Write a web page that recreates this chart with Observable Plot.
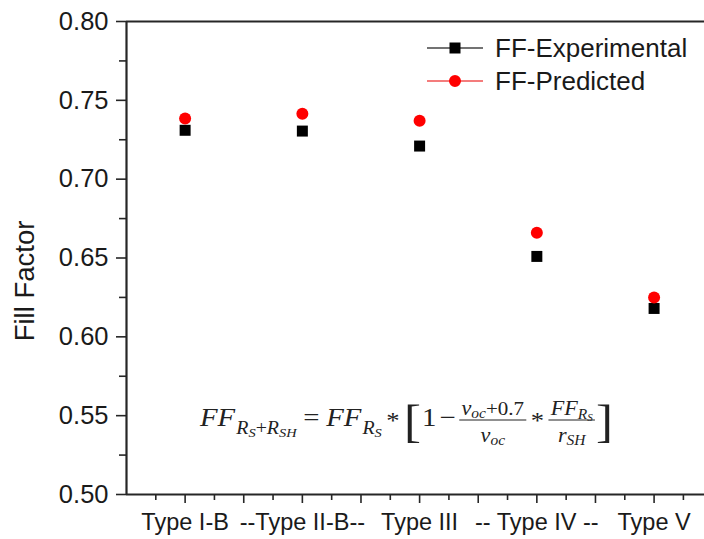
<!DOCTYPE html>
<html><head><meta charset="utf-8">
<script src="https://cdn.jsdelivr.net/npm/d3@7"></script>
<script src="https://cdn.jsdelivr.net/npm/@observablehq/plot@0.6"></script>
<style>
html,body{margin:0;padding:0;background:#fff;}
#chart{width:704px;height:539px;overflow:hidden;}
</style></head><body><div id="chart"></div>
<script>
// ---- data ----
const categories = ["Type I-B", "Type II-B", "Type III", "Type IV", "Type V"];
const tickLabels = ["Type I-B", "--Type II-B--", "Type III", "-- Type IV --", "Type V"];
const ffExperimental = [0.731, 0.7305, 0.721, 0.651, 0.618];
const ffPredicted = [0.7385, 0.7415, 0.737, 0.666, 0.625];
const seriesNames = ["FF-Experimental", "FF-Predicted"];
const yMajorTicks = [0.50, 0.55, 0.60, 0.65, 0.70, 0.75, 0.80];
const yMinorTicks = [0.525, 0.575, 0.625, 0.675, 0.725, 0.775];
const xMajorTicks = [1, 1.5, 2, 2.5, 3, 3.5, 4, 4.5, 5];
const xMinorTicks = [0.75, 1.25, 1.75, 2.25, 2.75, 3.25, 3.75, 4.25, 4.75, 5.25];
const yLabel = "Fill Factor";

const expRows = categories.map((c, i) => ({pos: i + 1, value: ffExperimental[i], series: seriesNames[0]}));
const predRows = categories.map((c, i) => ({pos: i + 1, value: ffPredicted[i], series: seriesNames[1]}));

const sans = "'Liberation Sans', Arial, sans-serif";
const serif = "'Liberation Serif', 'Times New Roman', serif";
const axisColor = "#262626";

const svg = Plot.plot({
  width: 704, height: 539,
  marginLeft: 126, marginRight: 0, marginTop: 21, marginBottom: 45,
  style: {fontFamily: sans, background: "#fff", color: axisColor},
  x: {type: "linear", domain: [0.5, 5.43]},
  y: {domain: [0.5, 0.8]},
  marks: [
    Plot.axisY(yMajorTicks, {tickSize: 10, tickPadding: 8, tickFormat: d3.format(".2f"), fontSize: 25.5, label: null, strokeWidth: 1.6, fill: "#1a1a1a"}),
    Plot.axisY(yMinorTicks, {tickSize: 7, tickFormat: () => "", label: null, strokeWidth: 1.6}),
    Plot.axisX(xMajorTicks, {tickSize: 9, tickPadding: 10, tickFormat: d => Number.isInteger(d) ? tickLabels[d - 1] : "", fontSize: 23.5, label: null, strokeWidth: 1.6, fill: "#1a1a1a"}),
    Plot.axisX(xMinorTicks, {tickSize: 6, tickFormat: () => "", label: null, strokeWidth: 1.6}),
    Plot.ruleY([0.8], {stroke: axisColor, strokeWidth: 2.2}),
    Plot.ruleY([0.5], {stroke: axisColor, strokeWidth: 2.2}),
    Plot.ruleX([0.5], {stroke: axisColor, strokeWidth: 2.2}),
    Plot.dot(expRows, {x: "pos", y: "value", symbol: "square", r: 6.2, fill: "#000", stroke: "none"}),
    Plot.dot(predRows, {x: "pos", y: "value", symbol: "circle", r: 6, fill: "#ff0000", stroke: "none"})
  ]
});
document.getElementById("chart").appendChild(svg);

const S = d3.select(svg);

// y axis title
S.append("text")
  .attr("transform", "translate(34,281) rotate(-90)")
  .attr("text-anchor", "middle")
  .attr("font-family", sans).attr("font-size", 27.5).attr("fill", "#1a1a1a")
  .text(yLabel);

// legend
const legendItems = [
  {name: seriesNames[0], line: "#444", fill: "#000", sym: d3.symbolSquare, size: 121},
  {name: seriesNames[1], line: "#f05050", fill: "#ff0000", sym: d3.symbolCircle, size: 113}
];
const lg = S.append("g").attr("text-anchor", "start");
legendItems.forEach((it, i) => {
  const yy = 48 + i * 33;
  lg.append("line").attr("x1", 427).attr("x2", 483).attr("y1", yy).attr("y2", yy)
    .attr("stroke", it.line).attr("stroke-width", 1.5);
  lg.append("path").attr("d", d3.symbol(it.sym, it.size)()).attr("transform", `translate(455,${yy})`).attr("fill", it.fill);
  lg.append("text").attr("x", 495).attr("y", yy).attr("dy", "0.36em").attr("text-anchor", "start")
    .attr("font-family", sans).attr("font-size", 26).attr("fill", "#1a1a1a").text(it.name);
});

// formula annotation
const fg = S.append("g").attr("fill", "#222").attr("text-anchor", "start");
const B = 426;
let cx = 0;
function piece(g, x, y, t, size, italic) {
  const el = g.append("text").attr("x", x).attr("y", y).attr("font-size", size)
    .attr("text-anchor", "start")
    .attr("font-style", italic ? "italic" : "normal").attr("font-family", serif).text(t);
  return el.node().getComputedTextLength();
}
function seq(g, x, parts) {
  let w = 0;
  parts.forEach(p => { w += piece(g, x + w, p[1], p[0], p[2], p[3]) + (p[4] || 0); });
  return w;
}
function frac(x, numParts, denParts, barY) {
  const ng = fg.append("g"), dg = fg.append("g");
  const nw = seq(ng, 0, numParts), dw = seq(dg, 0, denParts);
  const w = Math.max(nw, dw) + 4;
  ng.attr("transform", `translate(${x + (w - nw) / 2},0)`);
  dg.attr("transform", `translate(${x + (w - dw) / 2},0)`);
  fg.append("line").attr("x1", x).attr("x2", x + w).attr("y1", barY).attr("y2", barY)
    .attr("stroke", "#222").attr("stroke-width", 1.2);
  return w;
}
cx += seq(fg, cx, [["FF", B, 26, true, 1], ["R", B + 8, 18, true], ["S", B + 11, 13, true], ["+", B + 8, 18, false], ["R", B + 8, 18, true], ["SH", B + 11, 13, true, 6]]);
cx += seq(fg, cx, [["=", B, 26, false, 6], ["FF", B, 26, true, 1], ["R", B + 8, 18, true], ["S", B + 11, 13, true, 4], ["*", B + 2, 24, false, 4], ["[", B + 11, 46, false, 1], ["1", B, 26, false, 3], ["\u2212", B, 26, false, 3]]);
cx += frac(cx, [["v", B - 11, 20, true], ["oc", B - 8, 14, true], ["+0.7", B - 11, 19, false]], [["v", B + 16, 20, true], ["oc", B + 19, 14, true]], B - 6) + 4;
cx += seq(fg, cx, [["*", B + 2, 24, false, 4]]);
cx += frac(cx, [["FF", B - 11, 20, true], ["R", B - 7, 14, true], ["S", B - 5, 10, true]], [["r", B + 16, 20, true], ["SH", B + 19, 14, true]], B - 6) + 1;
cx += seq(fg, cx, [["]", B + 11, 46, false]]);
const sx = 413 / cx;
fg.attr("transform", `translate(200,0) scale(${sx},1)`);
</script>
</body></html>
